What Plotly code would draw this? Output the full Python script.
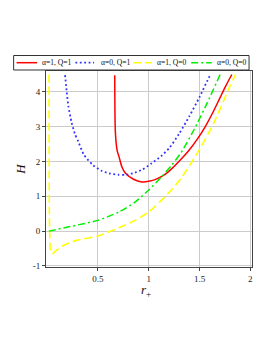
import plotly.graph_objects as go

# ---------------- data ----------------
r_a1q1 = [0.665, 0.666, 0.668, 0.672, 0.68, 0.69, 0.707, 0.735, 0.771, 0.85, 0.932, 1.0, 1.08, 1.157, 1.222, 1.32, 1.399, 1.48, 1.56, 1.63, 1.705, 1.76, 1.818]
H_a1q1 = [4.48, 3.8, 3.2, 2.8, 2.5, 2.3, 2.14, 1.85, 1.66, 1.49, 1.415, 1.43, 1.5, 1.62, 1.78, 2.07, 2.33, 2.65, 3.02, 3.4, 3.85, 4.18, 4.5]

r_a0q1 = [0.176, 0.191, 0.208, 0.24, 0.272, 0.305, 0.36, 0.449, 0.53, 0.61, 0.7, 0.771, 0.852, 0.932, 1.029, 1.12, 1.206, 1.3, 1.4, 1.5, 1.6, 1.615]
H_a0q1 = [4.48, 4.03, 3.6, 3.12, 2.8, 2.58, 2.2, 1.9, 1.74, 1.66, 1.62, 1.62, 1.67, 1.76, 1.95, 2.15, 2.4, 2.8, 3.3, 3.85, 4.45, 4.5]

r_a1q0 = [0.018, 0.019, 0.021, 0.025, 0.03, 0.04, 0.05, 0.065, 0.09, 0.12, 0.159, 0.288, 0.5, 0.707, 0.868, 1.0, 1.157, 1.222, 1.319, 1.48, 1.64, 1.8, 1.855]
H_a1q0 = [4.5, 2.5, 0.5, -0.2, -0.5, -0.63, -0.65, -0.62, -0.55, -0.48, -0.41, -0.265, -0.14, 0.1, 0.31, 0.55, 0.98, 1.18, 1.52, 2.25, 3.1, 4.17, 4.5]

r_a0q0 = [0.015, 0.159, 0.288, 0.5, 0.707, 0.868, 1.0, 1.126, 1.222, 1.319, 1.447, 1.577, 1.705]
H_a0q0 = [0.0, 0.09, 0.17, 0.31, 0.55, 0.84, 1.18, 1.56, 1.88, 2.26, 2.92, 3.69, 4.51]

labels = ["α=1, Q=1", "α=0, Q=1", "α=1, Q=0", "α=0, Q=0"]
x_ticks = [0.5, 1, 1.5, 2]
x_tick_text = ["0.5", "1", "1.5", "2"]
y_ticks = [-1, 0, 1, 2, 3, 4]
y_tick_text = ["-1", "0", "1", "2", "3", "4"]

# ---------------- styles ----------------
styles = [
    dict(color="#ff0000", width=1.5, dash="solid"),
    dict(color="#3333ff", width=1.8, dash="1.8px,2.6px"),
    dict(color="#ffff00", width=1.6, dash="8px,4px"),
    dict(color="#00f000", width=1.5, dash="7px,3px,2px,3px"),
]
series = [(r_a1q1, H_a1q1), (r_a0q1, H_a0q1), (r_a1q0, H_a1q0), (r_a0q0, H_a0q0)]

OFF = 8  # page body margin
W, Hh = 273 - OFF, 353 - OFF
L, R, T, B = 42 - OFF, 21, 71 - OFF, 86
FONT = "Liberation Serif, Times New Roman, serif"

fig = go.Figure()
for (xs, ys), st, lab in zip(series, styles, labels):
    fig.add_trace(go.Scatter(x=xs, y=ys, mode="lines", name=lab,
                             line=dict(color=st["color"], width=st["width"], dash=st["dash"],
                                       shape="spline", smoothing=0.6),
                             showlegend=False, hoverinfo="skip"))

# manual legend (page pixel -> paper helpers)
pw, ph = W - L - R, Hh - T - B
def px(xp):
    return (xp - OFF - L) / pw
def py(yp):
    return (Hh - B - (yp - OFF)) / ph

shapes = [dict(type="rect", xref="paper", yref="paper", x0=px(9), x1=px(249), y0=py(70), y1=py(55.5),
               line=dict(color="#333333", width=1), fillcolor="white")]
annots = []
seg = [(12, 33, 36), (72, 91, 96), (131, 150, 153), (190, 211, 214)]
for (a, b, tx), st, lab in zip(seg, styles, labels):
    shapes.append(dict(type="line", xref="paper", yref="paper", x0=px(a), x1=px(b), y0=py(62.7), y1=py(62.7),
                       line=dict(color=st["color"], width=st["width"], dash=st["dash"])))
    annots.append(dict(xref="paper", yref="paper", x=px(tx), y=py(63), text=lab, showarrow=False,
                       xanchor="left", yanchor="middle", font=dict(family=FONT, size=7.6, color="#111")))

# x-axis title placed as annotation to match the reference position
annots.append(dict(xref="paper", yref="paper", x=px(144), y=py(290), text="<i>r</i><sub>+</sub>",
                   showarrow=False, xanchor="center", yanchor="middle",
                   font=dict(family=FONT, size=13, color="#111")))

fig.update_layout(
    width=W, height=Hh,
    margin=dict(l=L, r=R, t=T, b=B),
    paper_bgcolor="white", plot_bgcolor="white",
    shapes=shapes, annotations=annots,
    font=dict(family=FONT, size=9, color="#222"),
    showlegend=False,
)
fig.update_xaxes(range=[-0.012, 2.017], tickvals=x_ticks, ticktext=x_tick_text,
                 showgrid=True, gridcolor="#cccccc", gridwidth=1, zeroline=False,
                 showline=True, linecolor="#444444", linewidth=1, mirror=True,
                 ticks="outside", ticklen=3, tickcolor="#444444")
fig.update_yaxes(range=[-1.03, 4.6], tickvals=y_ticks, ticktext=y_tick_text,
                 showgrid=True, gridcolor="#cccccc", gridwidth=1, zeroline=False,
                 showline=True, linecolor="#444444", linewidth=1, mirror=True,
                 ticks="outside", ticklen=3, tickcolor="#444444",
                 title=dict(text="<i>H</i>", font=dict(family=FONT, size=13, color="#111"), standoff=4))

fig.write_html("out.html")
